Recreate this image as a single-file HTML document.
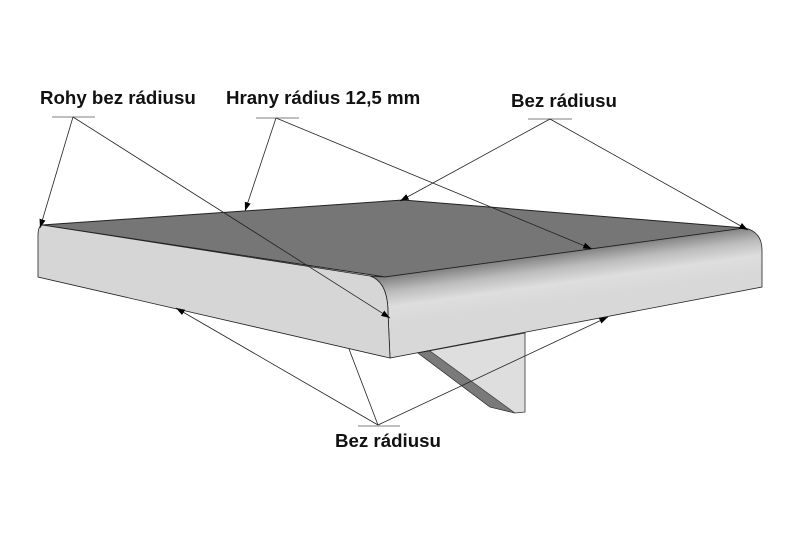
<!DOCTYPE html>
<html><head><meta charset="utf-8"><style>
html,body{margin:0;padding:0;background:#fff;width:800px;height:550px;overflow:hidden}
svg text{font-family:"Liberation Sans",sans-serif;font-weight:bold;font-size:18.7px;fill:#111}
</style></head><body>
<svg width="800" height="550" viewBox="0 0 800 550" xmlns="http://www.w3.org/2000/svg">
<defs>
<linearGradient id="roll" gradientUnits="userSpaceOnUse" x1="560" y1="250" x2="567" y2="300">
<stop offset="0" stop-color="#767676"/>
<stop offset="0.35" stop-color="#bcbcbc"/>
<stop offset="0.65" stop-color="#dedede"/>
<stop offset="1" stop-color="#d8d8d8"/>
</linearGradient>
<marker id="ar" viewBox="0 0 10 10" refX="10" refY="5" markerWidth="11" markerHeight="11" orient="auto-start-reverse">
<path d="M0,1.5 L10,5 L0,8.5 z" fill="#000"/>
</marker>
</defs>
<polygon points="418,353 525,333 525,412 515,413 490,407" fill="#dedede" stroke="#333" stroke-width="0.8"/>
<polygon points="418,353 430,351 515,413 490,407" fill="#7a7a7a" stroke="#333" stroke-width="0.6"/>
<polygon points="42,225 403,200 745,228 385,277" fill="#767676" stroke="#222" stroke-width="1"/>
<path d="M385,277 L745,228 Q762,232 762,250 L762,287 L390,358 L388,313 Q388,282 370,276 Z" fill="url(#roll)" stroke="#222" stroke-width="0.8"/>
<path d="M42,225 L370,276 Q388,282 388,313 L390,358 L38,277 L38,236 Q38,226 42,225 Z" fill="#d6d6d6" stroke="#222" stroke-width="0.8"/>
<text x="40" y="104">Rohy bez rádiusu</text>
<text x="226" y="104">Hrany rádius 12,5 mm</text>
<text x="511" y="107">Bez rádiusu</text>
<text x="335" y="447">Bez rádiusu</text>
<g stroke="#999" stroke-width="1.2">
<line x1="52" y1="117" x2="95" y2="117"/>
<line x1="256" y1="118" x2="299" y2="118"/>
<line x1="528" y1="119" x2="572" y2="119"/>
<line x1="358" y1="426" x2="400" y2="426"/>
</g>
<g stroke="#222" stroke-width="0.8" fill="none">
<line x1="73" y1="117" x2="40" y2="228" marker-end="url(#ar)"/>
<line x1="73" y1="117" x2="390" y2="318" marker-end="url(#ar)"/>
<line x1="276" y1="118" x2="245" y2="211" marker-end="url(#ar)"/>
<line x1="276" y1="118" x2="592" y2="249" marker-end="url(#ar)"/>
<line x1="550" y1="119" x2="400" y2="201" marker-end="url(#ar)"/>
<line x1="550" y1="119" x2="748" y2="230" marker-end="url(#ar)"/>
<line x1="378" y1="425" x2="176" y2="308" marker-end="url(#ar)"/>
<line x1="378" y1="425" x2="349" y2="349"/>
<line x1="378" y1="425" x2="608" y2="317" marker-end="url(#ar)"/>
</g>
</svg>
</body></html>
